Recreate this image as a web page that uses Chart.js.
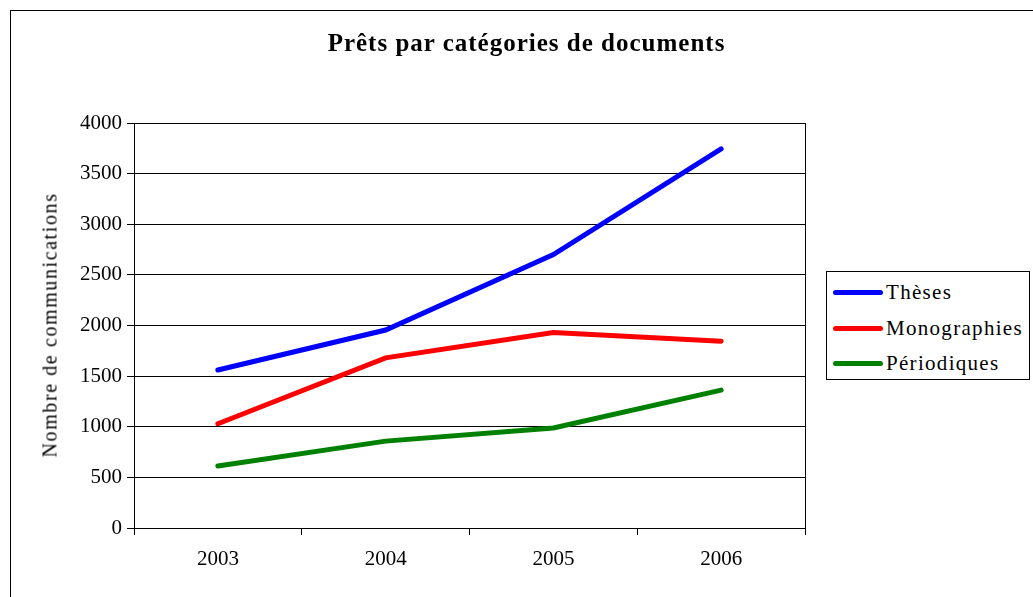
<!DOCTYPE html>
<html>
<head>
<meta charset="utf-8">
<script src="https://cdn.jsdelivr.net/npm/chart.js@4/dist/chart.umd.min.js"></script>
<style>
  html, body { margin: 0; padding: 0; background: #fff; }
  #wrap { position: relative; width: 1033px; height: 597px; overflow: hidden; }
  #frame { position: absolute; left: 10px; top: 10px; width: 1100px; height: 700px; border: 1px solid #000; box-sizing: border-box; }
  #title { position: absolute; left: 0; width: 1053px; top: 29px; text-align: center; font: bold 25px "Liberation Serif", serif; letter-spacing: 1px; color: #000; }
  #ytitle { position: absolute; left: 50px; top: 325px; transform: translate(-50%, -50%) rotate(-90deg); white-space: nowrap; font: 20px "Liberation Serif", serif; letter-spacing: 1.6px; color: #000; }
  #legend { position: absolute; left: 826px; top: 271px; width: 204px; height: 109px; border: 1px solid #000; box-sizing: border-box; background: #fff; font: 21px "Liberation Serif", serif; letter-spacing: 1.3px; }
  .item { position: absolute; left: 6px; height: 24px; display: flex; align-items: center; }
  .swatch { width: 50px; height: 5px; border-radius: 3px; margin-right: 3px; }
  canvas { position: absolute; left: 0; top: 0; }
</style>
</head>
<body>
<div id="wrap">
  <div id="frame"></div>
  <canvas id="c" width="1033" height="597"></canvas>
  <div id="title">Prêts par catégories de documents</div>
  <div id="ytitle">Nombre de communications</div>
  <div id="legend"></div>
</div>
<script>
const years = ['2003', '2004', '2005', '2006'];
const theses = [1560, 1955, 2700, 3745];
const monographies = [1030, 1680, 1930, 1845];
const periodiques = [612, 858, 988, 1362];
const seriesNames = ['Thèses', 'Monographies', 'Périodiques'];
const seriesColors = ['#0000ff', '#ff0000', '#008000'];

const font = { family: '"Liberation Serif", serif', size: 21 };

// box around the plot area
const plotBox = {
  id: 'plotBox',
  afterDraw(chart) {
    const a = chart.chartArea, ctx = chart.ctx;
    ctx.save();
    ctx.strokeStyle = '#000';
    ctx.lineWidth = 1;
    ctx.strokeRect(Math.round(a.left) + 0.5, Math.round(a.top) + 0.5, Math.round(a.right - a.left), Math.round(a.bottom - a.top));
    ctx.restore();
  }
};

const chart = new Chart(document.getElementById('c'), {
  type: 'line',
  data: {
    labels: years,
    datasets: [theses, monographies, periodiques].map((d, i) => ({
      label: seriesNames[i],
      data: d,
      borderColor: seriesColors[i],
      backgroundColor: seriesColors[i],
      borderWidth: 5,
      pointRadius: 0,
      tension: 0,
      borderCapStyle: 'round'
    }))
  },
  options: {
    responsive: false,
    animation: false,
    layout: { padding: { left: 0, top: 123, right: 228, bottom: 0 } },
    plugins: { legend: { display: false }, title: { display: false }, tooltip: { enabled: false } },
    scales: {
      x: {
        offset: true,
        grid: { offset: true, drawOnChartArea: false, tickLength: 7, color: '#000' },
        border: { color: '#000' },
        ticks: { color: '#000', font: font, padding: 12, maxRotation: 0 },
        afterFit(s) { s.height = 69; }
      },
      y: {
        min: 0, max: 4000,
        ticks: { stepSize: 500, color: '#000', font: font, padding: 5, callback: v => String(v) },
        grid: { color: '#000', tickLength: 7 },
        border: { color: '#000' },
        afterFit(s) { s.width = 134; }
      }
    }
  },
  plugins: [plotBox]
});

// legend built from the datasets
const leg = document.getElementById('legend');
const rowsY = [8, 44, 79];
seriesNames.forEach((n, i) => {
  const it = document.createElement('div');
  it.className = 'item';
  it.style.top = rowsY[i] + 'px';
  it.innerHTML = '<span class="swatch" style="background:' + seriesColors[i] + '"></span><span>' + n + '</span>';
  leg.appendChild(it);
});
</script>
</body>
</html>
